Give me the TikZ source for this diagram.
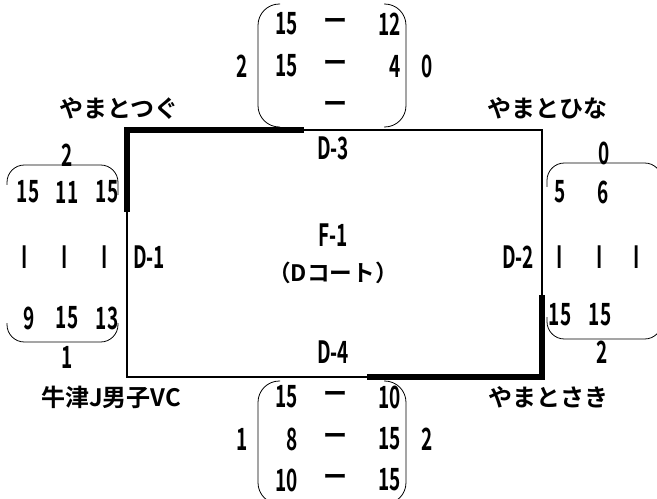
\documentclass[tikz,border=0pt]{standalone}
\usepackage{fontspec}
\setmainfont{Noto Sans CJK JP}[BoldFont={Noto Sans CJK JP Bold}]
\newfontfamily\numfont{Noto Sans CJK JP}[FakeStretch=0.62,BoldFont={Noto Sans CJK JP Bold}]

\begin{document}
\begin{tikzpicture}[x=0.75pt,y=-0.75pt]
\tikzset{
  team/.style={inner sep=0pt,font=\bfseries\fontsize{18}{18}\selectfont},
  score/.style={inner sep=0pt,font=\numfont\bfseries\fontsize{23}{23}\selectfont},
  dashmark/.style={inner sep=0pt,font=\bfseries\fontsize{18}{18}\selectfont},
  courtline/.style={line width=2.2pt},
  wonside/.style={line width=5pt,line join=miter},
  paren/.style={line width=0.6pt,rounded corners=16pt},
  brace/.style={line width=0.6pt,rounded corners=13pt}
}
\useasboundingbox (0,0) rectangle (657,499);
% court
\coordinate (c_tl) at (127,130);
\coordinate (c_tr) at (542,130);
\coordinate (c_br) at (542,377);
\coordinate (c_bl) at (127,377);
\coordinate (c_l) at (127,212);
\coordinate (c_t) at (304,130);
\coordinate (c_r) at (542,295);
\coordinate (c_b) at (367,377);
\draw[courtline] (c_tl) -- (c_tr) -- (c_br) -- (c_bl) -- cycle;
\draw[wonside] (c_l) -- (c_tl) -- (c_t);
\draw[wonside] (c_r) -- (c_br) -- (c_b);
\node[score] (n_D1) at (149,257) {D-1};
\node[score] (n_D2) at (518,257) {D-2};
\node[score] (n_D3) at (333,148) {D-3};
\node[score] (n_D4) at (333,352) {D-4};
\node[score] (n_F1) at (333,235) {F-1};
\node[team,font=\bfseries\fontsize{17}{17}\selectfont] (n_court) at (333,273) {（Dコート）};
% teams
\node[team] (n_tsugu) at (119,108) {やまとつぐ};
\node[team] (n_hina) at (547,108) {やまとひな};
\node[team] (n_ushizu) at (111,397) {牛津J男子VC};
\node[team] (n_saki) at (548,397) {やまとさき};
% D-3 scores
\draw[paren] (280,4) -- (258,4) -- (258,127) -- (280,127);
\draw[paren] (384,4) -- (406,4) -- (406,127) -- (384,127);
\node[score,anchor=east] (n_t1a) at (298,24) {15};
\node[dashmark] (n_t1d) at (335,24) {ー};
\node[score,anchor=east] (n_t1b) at (401,24) {12};
\node[score,anchor=east] (n_t2a) at (298,66) {15};
\node[dashmark] (n_t2d) at (335,66) {ー};
\node[score,anchor=east] (n_t2b) at (401,66) {4};
\node[dashmark] (n_t3d) at (335,107) {ー};
\node[score] (n_tL) at (242,66) {2};
\node[score] (n_tR) at (427,66) {0};
% D-4 scores
\draw[paren] (280,381) -- (258,381) -- (258,504) -- (280,504);
\draw[paren] (384,381) -- (406,381) -- (406,504) -- (384,504);
\node[score,anchor=east] (n_b1a) at (298,397) {15};
\node[dashmark] (n_b1d) at (335,397) {ー};
\node[score,anchor=east] (n_b1b) at (401,397) {10};
\node[score,anchor=east] (n_b2a) at (298,439) {8};
\node[dashmark] (n_b2d) at (335,439) {ー};
\node[score,anchor=east] (n_b2b) at (401,439) {15};
\node[score,anchor=east] (n_b3a) at (298,480) {10};
\node[dashmark] (n_b3d) at (335,480) {ー};
\node[score,anchor=east] (n_b3b) at (401,480) {15};
\node[score] (n_bL) at (242,439) {1};
\node[score] (n_bR) at (427,439) {2};
% D-1 scores
\draw[brace] (7,185) -- (7,165) -- (118,165) -- (118,195);
\draw[brace] (7,323) -- (7,342) -- (118,342) -- (118,323);
\node[score] (n_l0) at (67,155) {2};
\node[score] (n_l1a) at (28,192) {15};
\node[score] (n_l1b) at (67,192) {11};
\node[score] (n_l1c) at (107,192) {15};
\node[score] (n_l2a) at (25,257) {I};
\node[score] (n_l2b) at (65,257) {I};
\node[score] (n_l2c) at (105,257) {I};
\node[score] (n_l3a) at (29,318) {9};
\node[score] (n_l3b) at (67,318) {15};
\node[score] (n_l3c) at (107,318) {13};
\node[score] (n_l4) at (67,357) {1};
% D-2 scores
\draw[brace] (547,187) -- (547,163) -- (662,163) -- (662,190);
\draw[brace] (547,317) -- (547,339) -- (662,339) -- (662,317);
\node[score] (n_r0) at (604,153) {0};
\node[score] (n_r1a) at (560,192) {5};
\node[score] (n_r1b) at (603,192) {6};
\node[score] (n_r2a) at (560,257) {I};
\node[score] (n_r2b) at (600,257) {I};
\node[score] (n_r2c) at (637,257) {I};
\node[score] (n_r3a) at (560,315) {15};
\node[score] (n_r3b) at (600,315) {15};
\node[score] (n_r4) at (602,352) {2};
\end{tikzpicture}
\end{document}
